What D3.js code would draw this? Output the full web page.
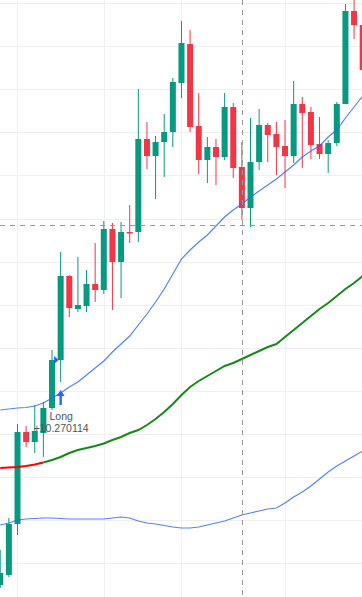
<!DOCTYPE html>
<html>
<head>
<meta charset="utf-8">
<script src="https://cdn.jsdelivr.net/npm/d3@7"></script>
<style>
  html, body { margin: 0; padding: 0; background: #fff; }
  svg { display: block; }
</style>
</head>
<body>
<div id="chart"></div>
<script>
// Candle values, one entry per bar (price units)
const opens  = [1.2, 2.2, 7.3, 16.5, 15.5, 16.4, 18.9, 23.7, 32.1, 28.8, 29.1, 31.3, 30.7, 36.8, 33.5, 36.5,
                36.5, 45.8, 44.1, 45.5, 46.5, 51.4, 55.3, 47.1, 43.7, 45.0, 44.0, 49.0, 43.0, 38.9, 43.5, 47.2,
                46.3, 45.1, 44.1, 49.3, 48.5, 45.3, 44.3, 45.4, 49.3, 58.6, 57.2]
const highs  = [4.7, 7.9, 17.3, 17.1, 19.2, 19.5, 24.7, 34.5, 32.2, 34.0, 32.7, 35.4, 37.6, 37.4, 37.5, 39.2,
                50.8, 47.5, 46.1, 48.3, 51.9, 57.6, 56.7, 50.4, 46.0, 45.8, 50.4, 49.4, 45.5, 47.9, 48.8, 47.4,
                47.5, 47.7, 51.6, 50.0, 49.0, 48.0, 45.7, 49.5, 59.3, 60.2, 57.7]
const lows   = [0.9, 2.0, 6.2, 15.0, 14.4, 14.0, 18.7, 21.5, 28.0, 28.5, 28.5, 29.5, 30.3, 28.7, 29.9, 35.4,
                35.5, 42.8, 39.8, 42.0, 45.0, 49.9, 46.5, 42.3, 41.4, 41.2, 43.7, 41.9, 37.7, 37.0, 42.7, 43.5,
                42.2, 40.9, 43.4, 42.9, 43.8, 43.8, 42.4, 45.1, 49.3, 55.8, 52.2]
const closes = [2.4, 7.3, 16.5, 15.5, 16.6, 18.9, 23.7, 32.1, 28.9, 29.2, 31.3, 30.7, 36.8, 33.5, 36.5, 36.35,
                45.8, 44.1, 45.5, 46.5, 51.5, 55.4, 47.0, 43.7, 45.0, 44.0, 49.0, 42.9, 38.9, 43.5, 47.2, 46.2,
                45.0, 44.1, 49.3, 48.4, 45.2, 44.3, 45.4, 49.3, 58.6, 57.2, 52.7]

// Moving averages, one value per bar
const maFast = [18.7, 18.8, 18.9, 18.95, 19.1, 19.4, 19.9, 20.4, 21.0, 21.5, 22.2, 22.9, 23.6, 24.5, 25.3, 26.1,
                27.2, 28.3, 29.5, 30.8, 32.3, 33.8, 34.7, 35.5, 36.2, 37.1, 38.0, 38.7, 39.3, 40.0, 40.6, 41.2,
                41.8, 42.5, 43.2, 44.0, 44.6, 45.1, 46.0, 46.7, 47.9, 49.0, 50.1]
const maMid  = [12.9, 12.95, 13.0, 13.1, 13.25, 13.45, 13.7, 14.0, 14.4, 14.7, 14.9, 15.1, 15.35, 15.7, 16.0, 16.4,
                16.7, 17.2, 17.8, 18.5, 19.3, 20.2, 21.0, 21.6, 22.1, 22.6, 23.1, 23.4, 23.8, 24.2, 24.6, 25.0,
                25.3, 26.0, 26.7, 27.4, 28.1, 28.8, 29.4, 30.1, 30.8, 31.4, 32.1]
const maSlow = [7.2, 7.4, 7.7, 7.8, 7.85, 7.9, 7.9, 7.85, 7.8, 7.8, 7.8, 7.8, 7.8, 7.9, 8.0, 7.9,
                7.6, 7.4, 7.3, 7.15, 7.0, 6.9, 6.9, 7.0, 7.2, 7.4, 7.6, 7.9, 8.2, 8.4, 8.6, 8.8,
                8.9, 9.4, 10.0, 10.5, 11.1, 11.8, 12.5, 13.1, 13.6, 14.1, 14.6]
// mid MA is drawn red up to this bar, green after
const MA_MID_RED_UNTIL = 5

// grid: time lines at these bars, price lines at these levels
const timeGrid = [2, 12, 21, 33]
const priceGrid = [59.4, 55.09, 50.78, 46.47, 42.16, 37.85, 33.54, 29.23, 24.92, 20.61, 16.3, 11.99, 7.68, 3.37]

// crosshair position
const crossBar = 28
const crossPrice = 37.2

// trade marker
const markerBar = 7
const markerEntry = 23.7
const markerLabel = ['Long', '+10.270114']

const WIDTH = 362
const HEIGHT = 597
const BODY_W = 6

const UP = '#089981'
const DOWN = '#f23645'
const BLUE = '#2962ff'

const bars = opens.map((o, i) => ({ i, o, h: highs[i], l: lows[i], c: closes[i] }))

const svg = d3.select('#chart')
    .append('svg')
    .attr('width', WIDTH)
    .attr('height', HEIGHT)

const x = d3.scaleLinear()
    .domain([0, bars.length - 1])
    .range([0.24, 362.7])
const y = d3.scaleLinear()
    .domain([0, 59.7])
    .range([HEIGHT, 0])

// Grid
svg.append('g')
    .selectAll('line')
    .data(priceGrid)
    .join('line')
    .attr('x1', 0).attr('x2', WIDTH)
    .attr('y1', d => Math.round(y(d)) + 0.5)
    .attr('y2', d => Math.round(y(d)) + 0.5)
    .style('stroke', '#f0f0f3')

svg.append('g')
    .selectAll('line')
    .data(timeGrid)
    .join('line')
    .attr('x1', d => Math.round(x(d)) + 0.5)
    .attr('x2', d => Math.round(x(d)) + 0.5)
    .attr('y1', 0).attr('y2', HEIGHT)
    .style('stroke', '#f0f0f3')

// Candles
const candle = svg.append('g')
    .selectAll('g')
    .data(bars)
    .join('g')
    .style('fill', d => d.c >= d.o ? UP : DOWN)
    .style('stroke', d => d.c >= d.o ? UP : DOWN)

candle.append('line')
    .attr('x1', d => x(d.i))
    .attr('x2', d => x(d.i))
    .attr('y1', d => y(d.h))
    .attr('y2', d => y(d.l))
    .style('stroke-width', 1)

candle.append('rect')
    .attr('x', d => x(d.i) - BODY_W / 2)
    .attr('width', BODY_W)
    .attr('y', d => y(Math.max(d.o, d.c)))
    .attr('height', d => Math.max(1, Math.abs(y(d.o) - y(d.c))))
    .style('stroke', 'none')

// Moving averages
const line = d3.line()
    .x(d => x(d[0]))
    .y(d => y(d[1]))

const pairs = arr => arr.map((v, i) => [i, v])

svg.append('path')
    .attr('d', line(pairs(maSlow)))
    .style('fill', 'none')
    .style('stroke', BLUE)
    .style('stroke-opacity', 0.8)
    .style('stroke-width', 1.2)

const mid = pairs(maMid)
svg.append('path')
    .attr('d', line(mid.slice(0, MA_MID_RED_UNTIL + 1)))
    .style('fill', 'none')
    .style('stroke', '#ff0000')
    .style('stroke-width', 2)
svg.append('path')
    .attr('d', line(mid.slice(MA_MID_RED_UNTIL)))
    .style('fill', 'none')
    .style('stroke', '#168a16')
    .style('stroke-width', 2)

svg.append('path')
    .attr('d', line(pairs(maFast)))
    .style('fill', 'none')
    .style('stroke', BLUE)
    .style('stroke-opacity', 0.8)
    .style('stroke-width', 1.2)

// Trade marker: entry triangle, arrow under the bar, label
const mx = x(markerBar)
const my = y(lows[markerBar])
svg.append('path')
    .attr('d', `M${mx - 6.5},${y(markerEntry) - 4}L${mx - 2},${y(markerEntry)}L${mx - 6.5},${y(markerEntry) + 4}Z`)
    .style('fill', BLUE)

svg.append('path')
    .attr('d', `M${mx},${my + 8} L${mx + 4},${my + 14} L${mx + 1.2},${my + 14} L${mx + 1.2},${my + 23}
                L${mx - 1.2},${my + 23} L${mx - 1.2},${my + 14} L${mx - 4},${my + 14} Z`)
    .style('fill', BLUE)

svg.append('g')
    .selectAll('text')
    .data(markerLabel)
    .join('text')
    .attr('x', mx + 0.5)
    .attr('y', (d, i) => my + 38 + i * 12)
    .text(d => d)
    .style('text-anchor', 'middle')
    .style('font-family', 'Liberation Sans, Arial, sans-serif')
    .style('font-size', '10.5px')
    .style('fill', '#50535e')

// Crosshair
const cross = svg.append('g')
    .style('stroke', '#9598a1')
    .style('stroke-dasharray', '5,5')
cross.append('line')
    .attr('x1', Math.round(x(crossBar)) + 0.5)
    .attr('x2', Math.round(x(crossBar)) + 0.5)
    .attr('y1', 0).attr('y2', HEIGHT)
cross.append('line')
    .attr('x1', 0).attr('x2', WIDTH)
    .attr('y1', Math.round(y(crossPrice)) + 0.5)
    .attr('y2', Math.round(y(crossPrice)) + 0.5)
</script>
</body>
</html>
